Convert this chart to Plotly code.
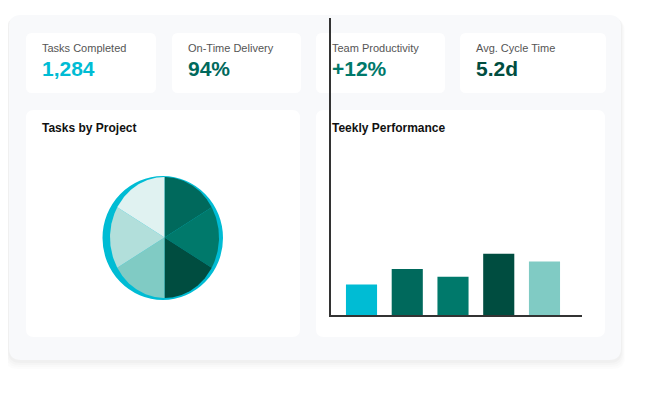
import numpy as np
import plotly.graph_objects as go

W, H = 647, 397
OFF = 8  # page body margin

# ---------------- data ----------------
kpi_labels = ["Tasks Completed", "On-Time Delivery", "Team Productivity", "Avg. Cycle Time"]
kpi_values = ["1,284", "94%", "+12%", "5.2d"]
kpi_colors = ["#00bcd4", "#00695c", "#00796b", "#004d40"]

project_names = ["Project A", "Project B", "Project C", "Project D", "Project E", "Project F"]
project_tasks = [20, 20, 20, 20, 20, 20]
project_colors = ["#00695c", "#00796b", "#004d40", "#80cbc4", "#b2dfdb", "#e0f2f1"]

weeks = ["Week 1", "Week 2", "Week 3", "Week 4", "Week 5"]
week_values = [20, 30, 25, 40, 35]
bar_colors = ["#00bcd4", "#00695c", "#00796b", "#004d40", "#80cbc4"]

panel_titles = ["Tasks by Project", "Teekly Performance"]


# ---------------- helpers ----------------
def px(x):
    return (x - OFF) / W


def py(y):
    return 1 - (y - OFF) / H


def rrect(x0, y0, x1, y1, r):
    pts = [
        ("M", [(x0 + r, y0)]),
        ("L", [(x1 - r, y0)]),
        ("Q", [(x1, y0), (x1, y0 + r)]),
        ("L", [(x1, y1 - r)]),
        ("Q", [(x1, y1), (x1 - r, y1)]),
        ("L", [(x0 + r, y1)]),
        ("Q", [(x0, y1), (x0, y1 - r)]),
        ("L", [(x0, y0 + r)]),
        ("Q", [(x0, y0), (x0 + r, y0)]),
    ]
    s = ""
    for cmd, ps in pts:
        s += cmd + " " + " ".join(f"{px(a):.5f},{py(b):.5f}" for a, b in ps) + " "
    return s + "Z"


fig = go.Figure()
shapes = []

# container shadow + container
for off, op in [(8, 0.01), (6, 0.012), (4, 0.015), (2, 0.02)]:
    shapes.append(dict(type="path", xref="paper", yref="paper", layer="below",
                       path=rrect(9 - off / 2, 15 + off / 2, 621 + off / 2, 361 + off, 12),
                       fillcolor=f"rgba(0,0,0,{op})", line=dict(width=0)))
shapes.append(dict(type="path", xref="paper", yref="paper", layer="below",
                   path=rrect(9, 15, 621, 360, 12), fillcolor="#f8f9fb", line=dict(width=0)))

# KPI cards
cards = [(26, 156), (172, 301), (316, 445), (460, 606)]
for (x0, x1), lab, val, col in zip(cards, kpi_labels, kpi_values, kpi_colors):
    shapes.append(dict(type="path", xref="paper", yref="paper", layer="below",
                       path=rrect(x0, 33, x1, 93, 6), fillcolor="#ffffff", line=dict(width=0)))
    fig.add_annotation(x=px(x0 + 14), y=py(48), xref="paper", yref="paper", text=lab,
                       showarrow=False, xanchor="left", yanchor="middle",
                       font=dict(family="Liberation Sans, Arial", size=11, color="#555555"))
    fig.add_annotation(x=px(x0 + 14), y=py(68), xref="paper", yref="paper", text=f"<b>{val}</b>",
                       showarrow=False, xanchor="left", yanchor="middle",
                       font=dict(family="Liberation Sans, Arial", size=21, color=col))

# panels
panels = [(26, 300), (316, 605)]
for (x0, x1), t in zip(panels, panel_titles):
    shapes.append(dict(type="path", xref="paper", yref="paper", layer="below",
                       path=rrect(x0, 110, x1, 337, 8), fillcolor="#ffffff", line=dict(width=0)))
    fig.add_annotation(x=px(x0 + 14), y=py(128), xref="paper", yref="paper", text=f"<b>{t}</b>",
                       showarrow=False, xanchor="left", yanchor="middle",
                       font=dict(family="Liberation Sans, Arial", size=12, color="#111111"))

# cyan ring behind pie
shapes.append(dict(type="circle", xref="paper", yref="paper", layer="below",
                   x0=px(102.5), x1=px(223), y0=py(300), y1=py(176),
                   fillcolor="#00bcd4", line=dict(width=0)))

# ---------------- pie (drawn on its own axes) ----------------
total = sum(project_tasks)
start = 0.0
for name, v, c in zip(project_names, project_tasks, project_colors):
    a0 = start / total * 2 * np.pi
    a1 = (start + v) / total * 2 * np.pi
    t = np.linspace(a0, a1, 60)
    xs = np.concatenate([[0], np.sin(t), [0]])
    ys = np.concatenate([[0], np.cos(t), [0]])
    fig.add_trace(go.Scatter(x=xs, y=ys, mode="lines", fill="toself", fillcolor=c,
                             line=dict(width=0, color=c), name=name, hoverinfo="name",
                             xaxis="x2", yaxis="y2", showlegend=False))
    start += v

cx, cy, rx, ry = 164.5, 237.5, 54.5, 60.5
half = 65
fig.update_layout(
    xaxis2=dict(domain=[px(cx - half), px(cx + half)], range=[-half / rx, half / rx],
                visible=False, fixedrange=True, anchor="y2"),
    yaxis2=dict(domain=[py(cy + half), py(cy - half)], range=[-half / ry, half / ry],
                visible=False, fixedrange=True, anchor="x2"),
)

# ---------------- bars ----------------
fig.add_trace(go.Bar(x=weeks, y=week_values, marker=dict(color=bar_colors, line=dict(width=0)),
                     width=0.68, showlegend=False, xaxis="x", yaxis="y"))

fig.update_layout(
    xaxis=dict(domain=[px(331), px(582)], range=[-0.667, 4.82], type="category",
               showline=True, linecolor="#333333", linewidth=1.5, showticklabels=False,
               ticks="", showgrid=False, zeroline=False, anchor="y"),
    yaxis=dict(domain=[py(315), py(18)], range=[0, 194], showline=True, linecolor="#333333",
               linewidth=1.5, showticklabels=False, ticks="", showgrid=False, zeroline=False,
               anchor="x"),
)

fig.update_layout(
    width=W, height=H, margin=dict(l=0, r=0, t=0, b=0),
    paper_bgcolor="#ffffff", plot_bgcolor="rgba(0,0,0,0)",
    shapes=shapes, showlegend=False,
)

fig.write_html("out.html", config={"displayModeBar": False})
